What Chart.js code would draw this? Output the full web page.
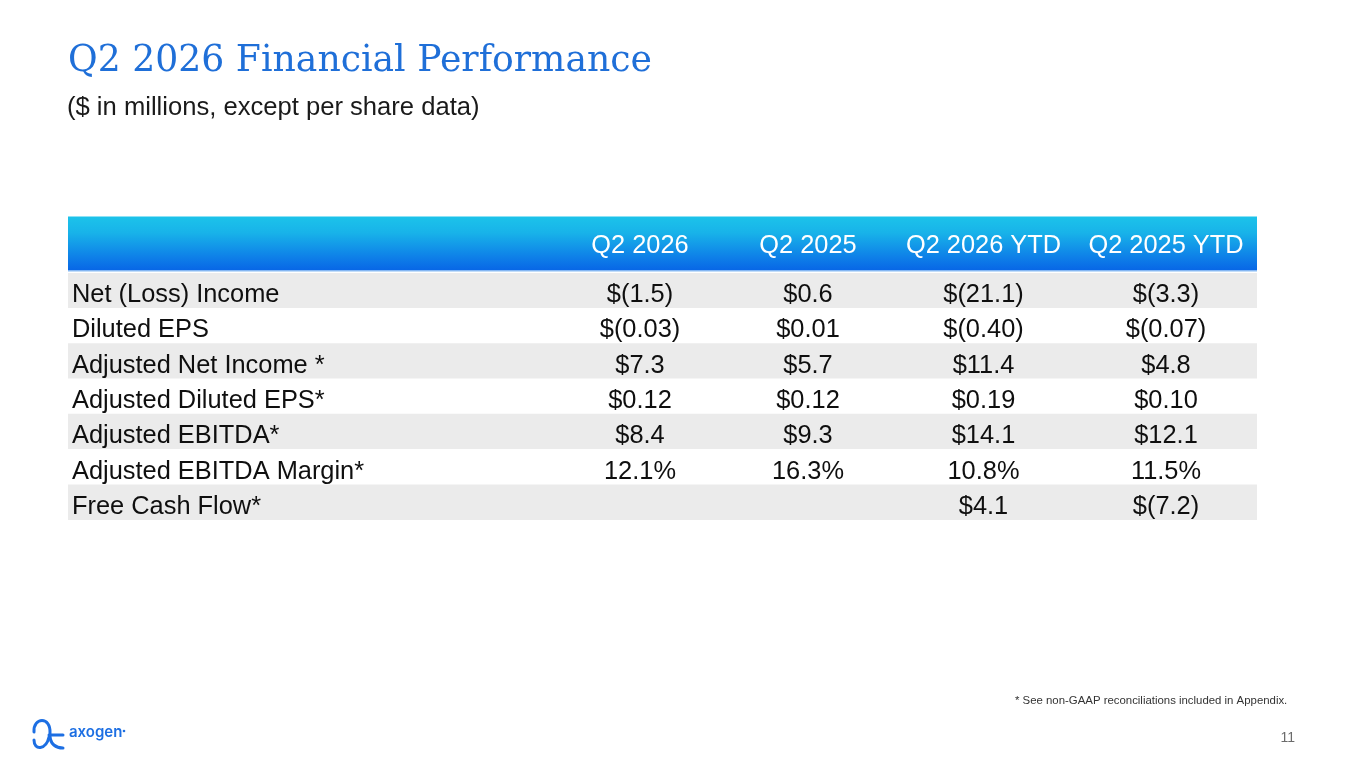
<!DOCTYPE html>
<html lang="en">
<head>
    <meta charset="UTF-8">
    <title>Q2 2026 Financial Performance</title>
    <script src="https://cdn.jsdelivr.net/npm/chart.js"></script>
    <style>
        html, body { margin: 0; padding: 0; background: #ffffff; }
        #wrap { width: 1365px; height: 768px; }
    </style>
</head>
<body>
<div id="wrap">
    <canvas id="tableChart" width="1365" height="768"></canvas>
</div>

<script>
    // table data
    const columns = ['Q2 2026', 'Q2 2025', 'Q2 2026 YTD', 'Q2 2025 YTD'];
    const metrics = [
        'Net (Loss) Income',
        'Diluted EPS',
        'Adjusted Net Income *',
        'Adjusted Diluted EPS*',
        'Adjusted EBITDA*',
        'Adjusted EBITDA Margin*',
        'Free Cash Flow*'
    ];
    const q2_2026     = ['$(1.5)', '$(0.03)', '$7.3',  '$0.12', '$8.4',  '12.1%', ''];
    const q2_2025     = ['$0.6',   '$0.01',   '$5.7',  '$0.12', '$9.3',  '16.3%', ''];
    const q2_2026_ytd = ['$(21.1)', '$(0.40)', '$11.4', '$0.19', '$14.1', '10.8%', '$4.1'];
    const q2_2025_ytd = ['$(3.3)', '$(0.07)', '$4.8',  '$0.10', '$12.1', '11.5%', '$(7.2)'];
    const series = [q2_2026, q2_2025, q2_2026_ytd, q2_2025_ytd];

    // layout (table is 1189px wide, x scale runs in px from the table's left edge)
    const TABLE_W = 1189;
    const colCenters = [572, 740, 915.5, 1098];
    const labelX = 4;
    const FONT = '"Liberation Sans", Arial, sans-serif';

    const slidePlugin = {
        id: 'slide',
        beforeDatasetsDraw(chart) {
            const ctx = chart.ctx;
            const area = chart.chartArea;
            const x = chart.scales.x;
            const top = area.top - 56.5, bottom = area.top - 2.5;

            // header band
            const grad = ctx.createLinearGradient(0, top, 0, bottom);
            grad.addColorStop(0, '#1CC3EA');
            grad.addColorStop(0.3, '#18B3E9');
            grad.addColorStop(0.75, '#0E80E8');
            grad.addColorStop(1, '#0866E6');
            ctx.save();
            ctx.fillStyle = grad;
            ctx.fillRect(area.left, top, area.right - area.left, bottom - top);
            ctx.fillStyle = '#86BBF3';
            ctx.fillRect(area.left, bottom, area.right - area.left, 1);

            ctx.fillStyle = '#ffffff';
            ctx.font = '25.4px ' + FONT;
            ctx.textAlign = 'center';
            ctx.textBaseline = 'alphabetic';
            columns.forEach((c, j) => {
                ctx.fillText(c, x.getPixelForValue(colCenters[j]), (top + bottom) / 2 + 9);
            });
            ctx.restore();
        },
        afterDatasetsDraw(chart) {
            const ctx = chart.ctx;
            const x = chart.scales.x, y = chart.scales.y;
            ctx.save();
            ctx.fillStyle = '#0F0F0F';
            ctx.font = '25.4px ' + FONT;
            ctx.textBaseline = 'alphabetic';
            metrics.forEach((m, i) => {
                const base = y.getPixelForValue(i) + 11.5;
                ctx.textAlign = 'left';
                ctx.fillText(m, x.getPixelForValue(labelX), base);
                ctx.textAlign = 'center';
                series.forEach((s, j) => {
                    if (s[i]) ctx.fillText(s[i], x.getPixelForValue(colCenters[j]), base);
                });
            });
            ctx.restore();
        },
        afterDraw(chart) {
            const ctx = chart.ctx;
            ctx.save();
            ctx.textBaseline = 'alphabetic';
            ctx.textAlign = 'left';

            // title, squeezed to the reference width
            const title = 'Q2 2026 Financial Performance';
            ctx.fillStyle = '#1F6FD8';
            ctx.font = '38px "DejaVu Serif", "Liberation Serif", serif';
            const tw = ctx.measureText(title).width;
            ctx.save();
            ctx.translate(68, 71);
            ctx.scale(584 / tw, 1);
            ctx.fillText(title, 0, 0);
            ctx.restore();

            ctx.fillStyle = '#1A1A1A';
            ctx.font = '25.6px ' + FONT;
            ctx.fillText('($ in millions, except per share data)', 67, 115);

            // footnote and page number
            ctx.fillStyle = '#333333';
            ctx.font = '11.4px ' + FONT;
            ctx.fillText('* See non-GAAP reconciliations included in Appendix.', 1015, 704);
            ctx.fillStyle = '#6B6B6B';
            ctx.font = '14px ' + FONT;
            ctx.textAlign = 'right';
            ctx.fillText('11', 1295, 742);

            // logo
            ctx.strokeStyle = '#1D6FE3';
            ctx.lineWidth = 3;
            ctx.lineCap = 'round';
            ctx.beginPath();
            ctx.moveTo(34, 732);
            ctx.bezierCurveTo(33, 717, 51, 716, 50, 733);
            ctx.bezierCurveTo(49, 745, 57, 748, 63, 748);
            ctx.stroke();
            ctx.beginPath();
            ctx.moveTo(49, 737);
            ctx.bezierCurveTo(46, 750, 34, 751, 34, 740);
            ctx.stroke();
            ctx.beginPath();
            ctx.moveTo(49, 735);
            ctx.lineTo(63, 735);
            ctx.stroke();
            ctx.fillStyle = '#1D6FE3';
            ctx.textAlign = 'left';
            ctx.font = '600 15px Inter, "Noto Sans", sans-serif';
            ctx.fillText('axogen', 69, 737);
            ctx.beginPath();
            ctx.arc(124, 731, 1.3, 0, Math.PI * 2);
            ctx.fill();
            ctx.restore();
        }
    };

    const ctx = document.getElementById('tableChart').getContext('2d');
    const tableChart = new Chart(ctx, {
        type: 'bar',
        data: {
            labels: metrics,
            datasets: [{
                label: 'rows',
                data: metrics.map(() => [0, TABLE_W]),
                backgroundColor: metrics.map((m, i) => i % 2 === 0 ? '#EBEBEB' : '#FFFFFF'),
                borderWidth: 0,
                barPercentage: 1,
                categoryPercentage: 1
            }]
        },
        options: {
            indexAxis: 'y',
            responsive: false,
            animation: false,
            layout: { padding: { left: 68, right: 108, top: 273, bottom: 248 } },
            plugins: { legend: { display: false }, tooltip: { enabled: false } },
            scales: {
                x: { type: 'linear', min: 0, max: TABLE_W, display: false },
                y: { display: false }
            }
        },
        plugins: [slidePlugin]
    });
</script>
</body>
</html>
